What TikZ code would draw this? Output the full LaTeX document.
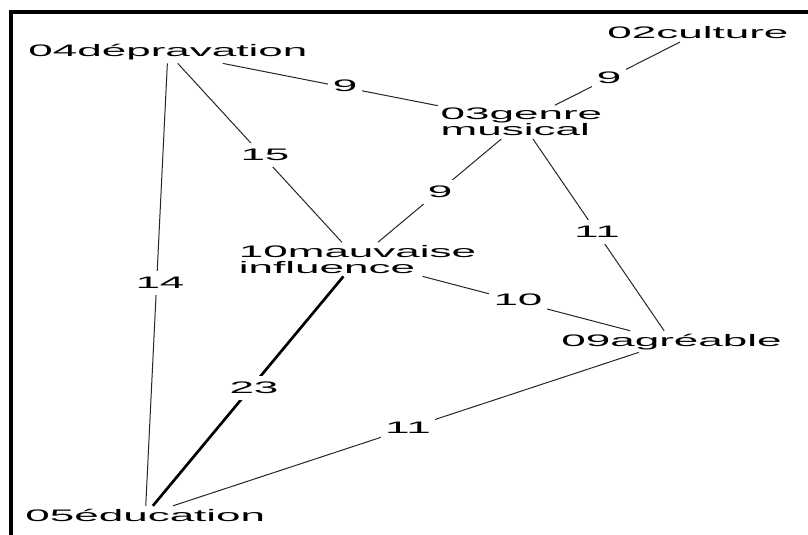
\documentclass[tikz,border=0pt]{standalone}
\usepackage{fontspec}
\setmainfont{Liberation Sans}
\usepackage{graphicx}
% wide, horizontally stretched lettering used for every label
\newcommand\widetxt[1]{\scalebox{2.64}[1]{#1}}
\tikzset{
  term/.style={inner sep=2pt, font=\fontsize{12.5}{12}\selectfont, align=left},
  weight/.style={fill=white, inner xsep=3.4pt, inner ysep=4.5pt, font=\fontsize{12.5}{12}\selectfont},
  link/.style={line width=0.75pt, black!85},
  stronglink/.style={line width=2pt, black},
  frame/.style={line width=2.7pt, line join=miter, black},
}
\begin{document}
\begin{tikzpicture}[x=0.75pt, y=-0.75pt]
\useasboundingbox (0,0) rectangle (808,535);
\fill[white] (0,0) rectangle (808,535);
% open frame: top and left rules
\draw[frame] (11,545) -- (11,12) -- (820,12);

% words
\node[term, anchor=base west] (n04) at (25.5,57) {\widetxt{04dépravation}};
\node[term, anchor=base west] (n02) at (604.5,39) {\widetxt{02culture}};
\node[term, anchor=north west] (n03) at (437.8,105.3) {\widetxt{03genre}\\\widetxt{musical}};
\node[term, anchor=north west] (n10) at (236,242.3) {\widetxt{10mauvaise}\\\widetxt{influence}};
\node[term, anchor=base west] (n09) at (558.5,346) {\widetxt{09agréable}};
\node[term, anchor=base west] (n05) at (22.5,521) {\widetxt{05éducation}};

% co-occurrence links
\draw[link] (n04) -- (n03);
\draw[link] (n02) -- (n03);
\draw[link] (n04) -- (n10);
\draw[link] (n03) -- (n10);
\draw[link] (n03) -- (n09);
\draw[link] (n04) -- (n05);
\draw[link] (n10) -- (n09);
\draw[stronglink] (n10) -- (n05);
\draw[link] (n05) -- (n09);

% link weights
\node[weight] (w0403) at (345,86) {\widetxt{9}};
\node[weight] (w0203) at (609,78) {\widetxt{9}};
\node[weight] (w0410) at (265,155) {\widetxt{15}};
\node[weight] (w0310) at (440,192) {\widetxt{9}};
\node[weight] (w0309) at (597,232) {\widetxt{11}};
\node[weight] (w0405) at (160,283) {\widetxt{14}};
\node[weight] (w1009) at (518,300) {\widetxt{10}};
\node[weight] (w1005) at (254,388) {\widetxt{23}};
\node[weight] (w0509) at (408,428) {\widetxt{11}};
\end{tikzpicture}
\end{document}
